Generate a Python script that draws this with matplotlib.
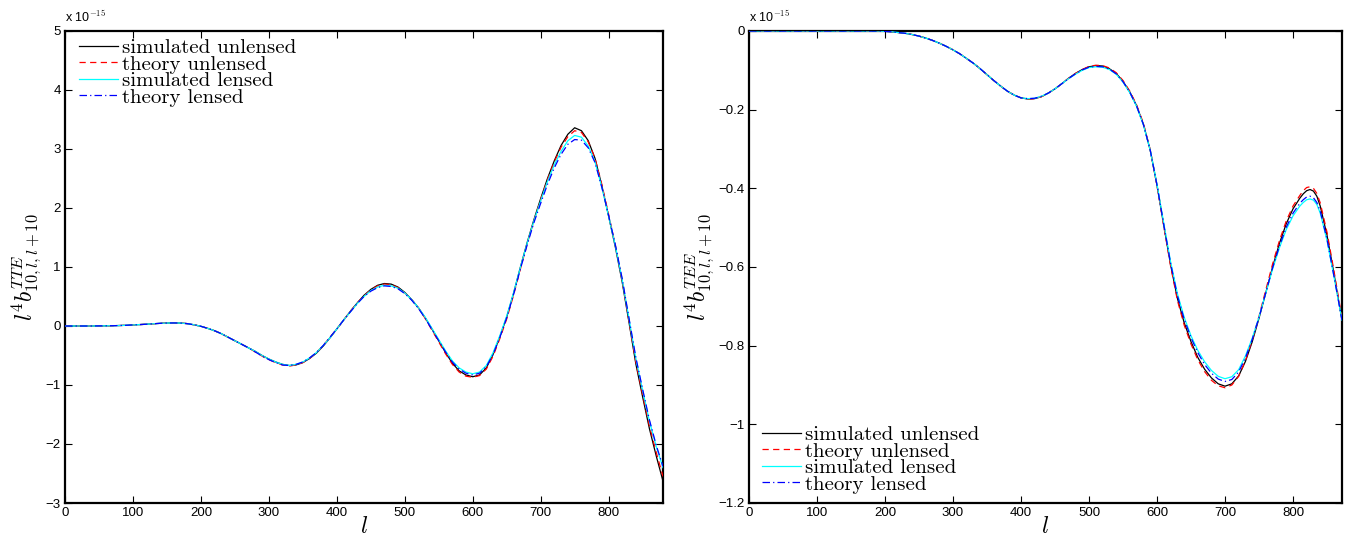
import numpy as np
import matplotlib
matplotlib.use("Agg")
import matplotlib.pyplot as plt

# ---------------- data (values in units of 1e-15) ----------------
ell_tte = [0, 10, 20, 30, 40, 50, 60, 70, 80, 90, 100, 110, 120, 130, 140, 150, 160, 170, 180, 190,
           200, 210, 220, 230, 240, 250, 260, 270, 280, 290, 300, 310, 320, 330, 340, 350, 360, 370,
           380, 390, 400, 410, 420, 430, 440, 450, 460, 470, 480, 490, 500, 510, 520, 530, 540, 550,
           560, 570, 580, 590, 600, 610, 620, 630, 640, 650, 660, 670, 680, 690, 700, 710, 720, 730,
           740, 750, 760, 770, 780, 790, 800, 810, 820, 830, 840, 850, 860, 870, 880]

tte_sim_unlensed = [0, 0, 0, 0, 0, 0.002, 0.003, 0.005, 0.008, 0.012, 0.018, 0.024, 0.03, 0.038, 0.045,
                    0.05, 0.052, 0.05, 0.04, 0.02, -0.005, -0.04, -0.08, -0.13, -0.19, -0.25, -0.31,
                    -0.37, -0.43, -0.50, -0.56, -0.61, -0.65, -0.67, -0.66, -0.62, -0.55, -0.46, -0.34,
                    -0.20, -0.05, 0.10, 0.25, 0.39, 0.52, 0.62, 0.69, 0.72, 0.71, 0.66, 0.57, 0.45, 0.31,
                    0.14, -0.05, -0.25, -0.45, -0.63, -0.76, -0.83, -0.86, -0.83, -0.71, -0.48, -0.18,
                    0.15, 0.55, 0.99, 1.41, 1.80, 2.16, 2.50, 2.80, 3.06, 3.25, 3.36, 3.31, 3.14, 2.84,
                    2.38, 1.86, 1.33, 0.74, 0.06, -0.64, -1.20, -1.74, -2.20, -2.63]

tte_th_unlensed = [0, 0, 0, 0, 0, 0.002, 0.003, 0.005, 0.008, 0.012, 0.018, 0.024, 0.03, 0.038, 0.045,
                   0.05, 0.052, 0.05, 0.04, 0.02, -0.005, -0.04, -0.08, -0.13, -0.19, -0.25, -0.31,
                   -0.37, -0.44, -0.51, -0.57, -0.62, -0.66, -0.68, -0.66, -0.62, -0.55, -0.45, -0.33,
                   -0.19, -0.05, 0.10, 0.25, 0.39, 0.51, 0.61, 0.68, 0.71, 0.70, 0.65, 0.56, 0.45, 0.31,
                   0.13, -0.07, -0.27, -0.47, -0.65, -0.78, -0.85, -0.87, -0.84, -0.73, -0.51, -0.21,
                   0.12, 0.52, 0.96, 1.39, 1.78, 2.14, 2.48, 2.78, 3.03, 3.21, 3.31, 3.28, 3.12, 2.84,
                   2.40, 1.89, 1.36, 0.77, 0.08, -0.61, -1.16, -1.69, -2.14, -2.55]

tte_sim_lensed = [0, 0, 0, 0, 0, 0.002, 0.003, 0.005, 0.008, 0.012, 0.018, 0.024, 0.03, 0.038, 0.045,
                  0.05, 0.052, 0.05, 0.04, 0.02, -0.005, -0.04, -0.08, -0.13, -0.19, -0.25, -0.31,
                  -0.37, -0.43, -0.50, -0.56, -0.61, -0.65, -0.67, -0.65, -0.61, -0.54, -0.45, -0.33,
                  -0.20, -0.05, 0.10, 0.24, 0.38, 0.50, 0.60, 0.66, 0.69, 0.68, 0.64, 0.56, 0.45, 0.31,
                  0.15, -0.04, -0.23, -0.42, -0.59, -0.71, -0.78, -0.81, -0.78, -0.67, -0.45, -0.16,
                  0.17, 0.56, 0.99, 1.40, 1.78, 2.12, 2.45, 2.73, 2.96, 3.14, 3.23, 3.20, 3.05, 2.78,
                  2.35, 1.86, 1.35, 0.78, 0.12, -0.55, -1.09, -1.61, -2.04, -2.40]

tte_th_lensed = [0, 0, 0, 0, 0, 0.002, 0.003, 0.005, 0.008, 0.012, 0.018, 0.024, 0.03, 0.038, 0.045,
                 0.05, 0.052, 0.05, 0.04, 0.02, -0.005, -0.04, -0.08, -0.13, -0.19, -0.25, -0.31,
                 -0.37, -0.44, -0.51, -0.57, -0.62, -0.66, -0.67, -0.65, -0.61, -0.54, -0.45, -0.33,
                 -0.19, -0.05, 0.10, 0.24, 0.38, 0.50, 0.59, 0.65, 0.68, 0.67, 0.63, 0.55, 0.44, 0.30,
                 0.13, -0.06, -0.25, -0.44, -0.61, -0.73, -0.80, -0.83, -0.80, -0.69, -0.48, -0.19,
                 0.14, 0.53, 0.96, 1.37, 1.75, 2.08, 2.40, 2.68, 2.91, 3.08, 3.16, 3.15, 3.02, 2.77,
                 2.35, 1.87, 1.37, 0.80, 0.13, -0.53, -1.07, -1.59, -2.02, -2.38]

ell_tee = [0, 10, 20, 30, 40, 50, 60, 70, 80, 90, 100, 110, 120, 130, 140, 150, 160, 170, 180, 190,
           200, 210, 220, 230, 240, 250, 260, 270, 280, 290, 300, 310, 320, 330, 340, 350, 360, 370,
           380, 390, 400, 410, 420, 430, 440, 450, 460, 470, 480, 490, 500, 510, 520, 530, 540, 550,
           560, 570, 580, 590, 600, 610, 620, 630, 640, 650, 660, 670, 680, 690, 700, 710, 720, 730,
           740, 750, 760, 770, 780, 790, 800, 810, 815, 820, 825, 830, 835, 840, 850, 860, 872]

tee_sim_unlensed = [0, 0, 0, 0, 0, 0, 0, 0, 0, 0, 0, 0, 0, 0, 0, 0, 0, 0, 0, 0,
                    -0.001, -0.002, -0.004, -0.006, -0.009, -0.013, -0.018, -0.024, -0.031, -0.039,
                    -0.048, -0.058, -0.070, -0.082, -0.096, -0.111, -0.126, -0.140, -0.153, -0.163,
                    -0.170, -0.173, -0.172, -0.167, -0.158, -0.147, -0.134, -0.120, -0.108, -0.098,
                    -0.091, -0.088, -0.089, -0.096, -0.108, -0.128, -0.155, -0.19, -0.237, -0.303,
                    -0.393, -0.495, -0.595, -0.68, -0.742, -0.79, -0.83, -0.86, -0.882, -0.897, -0.903,
                    -0.897, -0.877, -0.84, -0.79, -0.73, -0.665, -0.60, -0.54, -0.49, -0.452,
                    -0.425, -0.414, -0.406, -0.403, -0.407, -0.42, -0.445, -0.52, -0.615, -0.735]

tee_th_unlensed = [0, 0, 0, 0, 0, 0, 0, 0, 0, 0, 0, 0, 0, 0, 0, 0, 0, 0, 0, 0,
                   -0.001, -0.002, -0.004, -0.006, -0.009, -0.013, -0.018, -0.024, -0.031, -0.039,
                   -0.048, -0.058, -0.070, -0.082, -0.096, -0.111, -0.126, -0.140, -0.153, -0.163,
                   -0.170, -0.173, -0.172, -0.167, -0.158, -0.147, -0.134, -0.120, -0.108, -0.098,
                   -0.090, -0.087, -0.088, -0.094, -0.106, -0.126, -0.153, -0.188, -0.235, -0.302,
                   -0.393, -0.497, -0.598, -0.685, -0.748, -0.796, -0.836, -0.866, -0.888, -0.902, -0.907,
                   -0.90, -0.878, -0.838, -0.786, -0.725, -0.658, -0.592, -0.533, -0.483, -0.445,
                   -0.418, -0.406, -0.398, -0.396, -0.40, -0.413, -0.437, -0.512, -0.608, -0.73]

tee_sim_lensed = [0, 0, 0, 0, 0, 0, 0, 0, 0, 0, 0, 0, 0, 0, 0, 0, 0, 0, 0, 0,
                  -0.001, -0.002, -0.004, -0.006, -0.009, -0.013, -0.018, -0.024, -0.031, -0.039,
                  -0.048, -0.058, -0.070, -0.082, -0.096, -0.111, -0.126, -0.140, -0.153, -0.163,
                  -0.170, -0.172, -0.171, -0.166, -0.158, -0.147, -0.134, -0.121, -0.110, -0.100,
                  -0.093, -0.091, -0.092, -0.098, -0.110, -0.130, -0.157, -0.192, -0.239, -0.303,
                  -0.39, -0.49, -0.587, -0.668, -0.728, -0.775, -0.812, -0.841, -0.863, -0.878, -0.884,
                  -0.879, -0.861, -0.826, -0.781, -0.727, -0.666, -0.605, -0.551, -0.505, -0.47,
                  -0.445, -0.436, -0.429, -0.427, -0.43, -0.441, -0.463, -0.533, -0.623, -0.735]

tee_th_lensed = [0, 0, 0, 0, 0, 0, 0, 0, 0, 0, 0, 0, 0, 0, 0, 0, 0, 0, 0, 0,
                 -0.001, -0.002, -0.004, -0.006, -0.009, -0.013, -0.018, -0.024, -0.031, -0.039,
                 -0.048, -0.058, -0.070, -0.082, -0.096, -0.111, -0.126, -0.140, -0.153, -0.163,
                 -0.170, -0.172, -0.171, -0.166, -0.158, -0.147, -0.134, -0.121, -0.109, -0.099,
                 -0.092, -0.090, -0.091, -0.097, -0.109, -0.129, -0.156, -0.191, -0.238, -0.303,
                 -0.392, -0.493, -0.591, -0.673, -0.733, -0.78, -0.818, -0.848, -0.87, -0.885, -0.891,
                 -0.886, -0.867, -0.831, -0.784, -0.728, -0.665, -0.602, -0.547, -0.499, -0.463,
                 -0.438, -0.429, -0.422, -0.42, -0.424, -0.436, -0.458, -0.53, -0.622, -0.735]

labels = ["simulated unlensed", "theory unlensed", "simulated lensed", "theory lensed"]
tte_yticks = [-3, -2, -1, 0, 1, 2, 3, 4, 5]
tee_yticks = [-1.2, -1.0, -0.8, -0.6, -0.4, -0.2, 0.0]
xticks = [0, 100, 200, 300, 400, 500, 600, 700, 800]

# ---------------- figure ----------------
plt.rcParams['mathtext.fontset'] = 'cm'
plt.rcParams['font.family'] = ['Liberation Sans', 'DejaVu Sans']

W, H = 1350, 538
fig = plt.figure(figsize=(W / 100, H / 100), dpi=100)

ax1 = fig.add_axes([65 / W, 1 - 503 / H, 598 / W, 472 / H])
ax2 = fig.add_axes([749 / W, 1 - 503 / H, 593 / W, 472 / H])

styles = [dict(color='black', ls='-', lw=0.9),
          dict(color='red', ls=(0, (5, 3.5)), lw=0.9),
          dict(color='cyan', ls='-', lw=0.9),
          dict(color='blue', ls=(0, (6, 2.5, 1, 2.5)), lw=0.9)]


def style_axes(ax, yticks, ylim, xmax, ylabel, yfmt):
    ax.set_xlim(0, xmax)
    ax.set_ylim(*ylim)
    ax.set_xticks(xticks)
    ax.set_yticks(yticks)
    ax.set_yticklabels([yfmt(v).replace('-', '\u2212') for v in yticks])
    ax.tick_params(direction='in', length=5, width=0.8, top=True, right=True,
                   labelsize=9.5, pad=3)
    for s in ax.spines.values():
        s.set_linewidth(1.6)
    ax.set_xlabel(r'$l$', fontsize=17, labelpad=-2)
    ax.set_ylabel(ylabel, fontsize=17, labelpad=2)
    ax.text(0.0, 1.012, r'x 10$^{-15}$', transform=ax.transAxes, fontsize=9,
            ha='left', va='bottom')


for data, st, lab in zip([tte_sim_unlensed, tte_th_unlensed, tte_sim_lensed, tte_th_lensed],
                         styles, labels):
    ax1.plot(ell_tte, data, label=lab, zorder=3, **st)

for data, st, lab in zip([tee_sim_unlensed, tee_th_unlensed, tee_sim_lensed, tee_th_lensed],
                         styles, labels):
    ax2.plot(ell_tee, data, label=lab, zorder=3, **st)

style_axes(ax1, tte_yticks, (-3, 5), 880, r'$l^4 b^{TTE}_{10,l,l+10}$', lambda v: f'{v:d}')
style_axes(ax2, tee_yticks, (-1.2, 0), 872, r'$l^4 b^{TEE}_{10,l,l+10}$',
           lambda v: ('0' if v == 0 else (f'{v:g}')))

leg_kw = dict(frameon=False, handlelength=1.85, handletextpad=0.2,
              labelspacing=-0.1, borderaxespad=0.0, borderpad=0.0,
              prop={'family': 'cmr10', 'size': 15})
ax1.legend(loc='upper left', bbox_to_anchor=(0.024, 0.984), **leg_kw)
ax2.legend(loc='lower left', bbox_to_anchor=(0.022, 0.02), **leg_kw)

fig.savefig('out.png', dpi=100)
